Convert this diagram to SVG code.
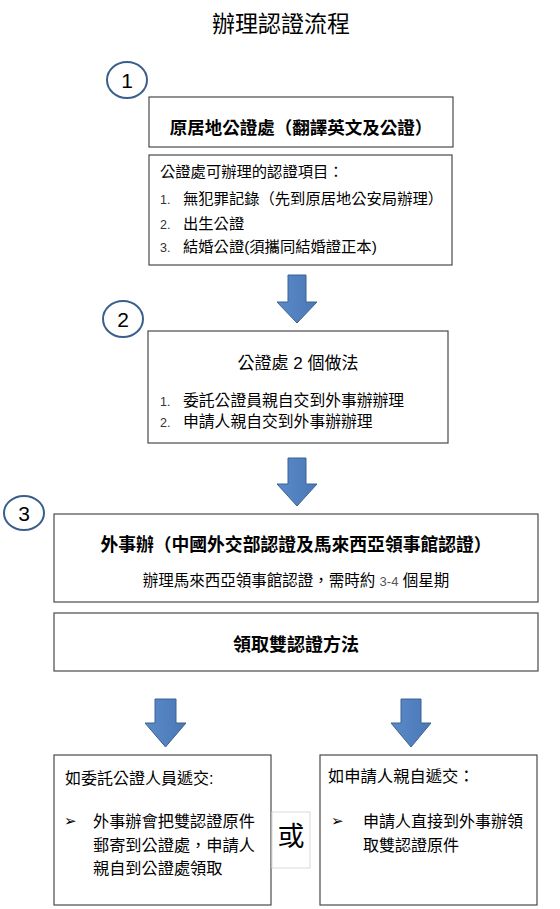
<svg xmlns="http://www.w3.org/2000/svg" width="560" height="909" viewBox="0 0 560 909">
<style>
text{font-family:"Liberation Sans","Noto Sans CJK TC","Noto Sans CJK SC",sans-serif;fill:#000}
.box{fill:#fff;stroke:#4a4a4a;stroke-width:1.2}
.ybox{fill:#fff;stroke:#d9d9d9;stroke-width:1}
.circ{fill:#fff;stroke:#3b5f8c;stroke-width:2}
.num{font-size:21px;text-anchor:middle}
.arrow{fill:url(#ag);stroke:#3a6292;stroke-width:1}
.b{font-weight:bold;text-anchor:middle}
.c{text-anchor:middle}
.li{font-size:12.5px;fill:#333}
.bul{font-family:"DejaVu Sans",sans-serif;font-size:15px}
</style>
<defs>
<linearGradient id="ag" x1="0" y1="0" x2="1" y2="0">
<stop offset="0" stop-color="#5b8ac8"/>
<stop offset="1" stop-color="#4a78b6"/>
</linearGradient>
</defs>
<rect width="560" height="909" fill="#fff"/>
<text x="281" y="32" class="c" font-size="23">辦理認證流程</text>

<g id="step1">
<ellipse class="circ" cx="127" cy="80" rx="20" ry="18"/>
<text x="127" y="88" class="num">1</text>
</g>
<g id="box1">
<rect class="box" x="149" y="97" width="304" height="50"/>
<text x="301" y="134" class="b" font-size="17.5">原居地公證處（翻譯英文及公證）</text>
</g>
<g id="box2">
<rect class="box" x="149" y="155" width="303" height="110"/>
<text x="160" y="177" font-size="15.3">公證處可辦理的認證項目：</text>
<text x="160" y="204" class="li">1.</text>
<text x="183" y="204" font-size="15.3">無犯罪記錄（先到原居地公安局辦理）</text>
<text x="160" y="229" class="li">2.</text>
<text x="183" y="229" font-size="15.3">出生公證</text>
<text x="160" y="252" class="li">3.</text>
<text x="183" y="252" font-size="15.3">結婚公證(須攜同結婚證正本)</text>
</g>
<g id="step2">
<ellipse class="circ" cx="123" cy="319" rx="20" ry="18"/>
<text x="123" y="327" class="num">2</text>
</g>
<g id="box3">
<rect class="box" x="148" y="331" width="300" height="112"/>
<text x="298" y="369" class="c" font-size="17">公證處 2 個做法</text>
<text x="160" y="406" class="li">1.</text>
<text x="183" y="406" font-size="15.8">委託公證員親自交到外事辦辦理</text>
<text x="160" y="427" class="li">2.</text>
<text x="183" y="427" font-size="15.8">申請人親自交到外事辦辦理</text>
</g>
<g id="step3">
<ellipse class="circ" cx="24" cy="513" rx="20" ry="17"/>
<text x="24" y="521" class="num">3</text>
</g>
<g id="box4">
<rect class="box" x="54" y="514" width="484" height="88"/>
<text x="296" y="551" class="b" font-size="17.8">外事辦（中國外交部認證及馬來西亞領事館認證）</text>
<text x="296" y="586" class="c" font-size="15.5">辦理馬來西亞領事館認證，需時約 <tspan fill="#555" font-size="13">3-4</tspan> 個星期</text>
</g>
<g id="box5">
<rect class="box" x="54" y="613" width="484" height="58"/>
<text x="296" y="651" class="b" font-size="18">領取雙認證方法</text>
</g>
<g id="boxL">
<rect class="box" x="54" y="755" width="217" height="150"/>
<text x="65" y="784" font-size="16">如委託公證人員遞交:</text>
<text x="64" y="826" class="bul">➢</text>
<text x="93" y="827" font-size="16.2">外事辦會把雙認證原件</text>
<text x="93" y="851" font-size="16.2">郵寄到公證處，申請人</text>
<text x="93" y="874" font-size="16.2">親自到公證處領取</text>
</g>
<g id="or">
<rect class="ybox" x="272" y="812" width="38" height="56"/>
<text x="291" y="846" class="c" font-size="27">或</text>
</g>
<g id="boxR">
<rect class="box" x="320" y="755" width="217" height="150"/>
<text x="328" y="782" font-size="16.3">如申請人親自遞交：</text>
<text x="331" y="826" class="bul">➢</text>
<text x="363" y="827" font-size="16">申請人直接到外事辦領</text>
<text x="363" y="851" font-size="16">取雙認證原件</text>
</g>
<g id="connectors">
<path class="arrow" d="M288 275H306V302H317L297 323L277 302H288Z"/>
<path class="arrow" d="M288 458H306V484H317L297 506L277 484H288Z"/>
<path class="arrow" d="M155 699H176V723H186L165.5 747L145 723H155Z"/>
<path class="arrow" d="M401 699H421V723H431L411 747L391 723H401Z"/>
</g>
</svg>
